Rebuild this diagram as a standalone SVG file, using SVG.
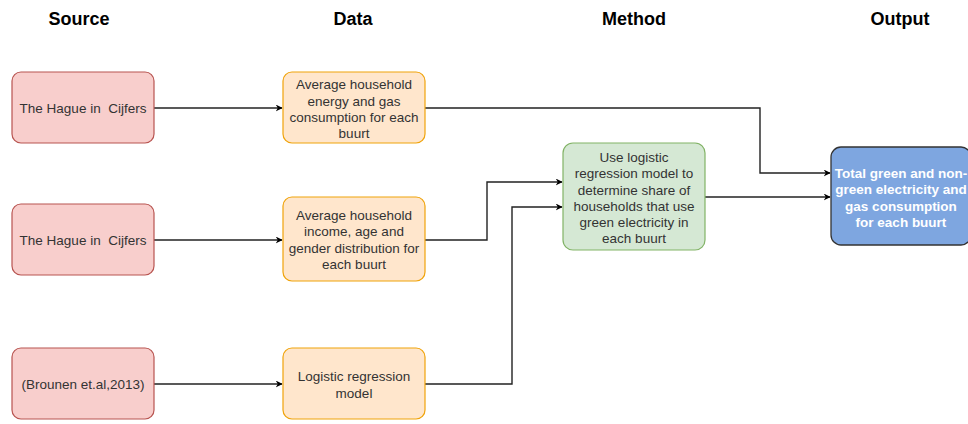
<svg xmlns="http://www.w3.org/2000/svg" width="968" height="424" viewBox="0 0 968 424">
<style>
text{font-family:"Liberation Sans",Arial,sans-serif;white-space:pre;}
.hdr{font-size:18px;font-weight:bold;fill:#000;text-anchor:middle;}
.t{font-size:13.5px;fill:#333;text-anchor:middle;}
.tw{font-size:13.5px;fill:#fff;font-weight:bold;text-anchor:middle;}
.src{fill:#F8CECC;stroke:#B85450;stroke-width:1.2;}
.dat{fill:#FFE6CC;stroke:#F0A30A;stroke-width:1.2;}
.met{fill:#D5E8D4;stroke:#82B366;stroke-width:1.2;}
.out{fill:#7EA6E0;stroke:#333;stroke-width:1.3;}
.c{fill:none;stroke:#222;stroke-width:1.4;marker-end:url(#ah);}
</style>
<defs>
<marker id="ah" viewBox="0 0 10 10" refX="9" refY="5" markerWidth="7" markerHeight="7" markerUnits="userSpaceOnUse" orient="auto">
<path d="M0,0 L10,5 L0,10 L3,5 Z" fill="#000"/>
</marker>
</defs>
<rect width="968" height="424" fill="#fff"/>
<g id="headers">
<text class="hdr" x="79" y="25">Source</text>
<text class="hdr" x="353" y="25">Data</text>
<text class="hdr" x="634" y="25">Method</text>
<text class="hdr" x="900" y="25">Output</text>
</g>
<g id="connectors">
<path class="c" d="M154,108 H282"/>
<path class="c" d="M154,240 H282"/>
<path class="c" d="M154,384 H282"/>
<path class="c" d="M425,108 H760 V173 H830"/>
<path class="c" d="M425,240 H487 V182 H562"/>
<path class="c" d="M425,384 H512 V207 H562"/>
<path class="c" d="M705,197 H830"/>
</g>
<g id="src1">
<rect class="src" x="12" y="72" width="142" height="71" rx="9"/>
<text class="t" x="83" y="113" xml:space="preserve">The Hague in  Cijfers</text>
</g>
<g id="src2">
<rect class="src" x="12" y="204" width="142" height="71" rx="9"/>
<text class="t" x="83" y="245" xml:space="preserve">The Hague in  Cijfers</text>
</g>
<g id="src3">
<rect class="src" x="12" y="348" width="142" height="71" rx="9"/>
<text class="t" x="83" y="389">(Brounen et.al,2013)</text>
</g>
<g id="data1">
<rect class="dat" x="283" y="72" width="142" height="71" rx="9"/>
<text class="t" x="354" y="89">Average household</text>
<text class="t" x="354" y="106">energy and gas</text>
<text class="t" x="354" y="122">consumption for each</text>
<text class="t" x="354" y="138">buurt</text>
</g>
<g id="data2">
<rect class="dat" x="283" y="197" width="142" height="84" rx="9"/>
<text class="t" x="354" y="220">Average household</text>
<text class="t" x="354" y="236">income, age and</text>
<text class="t" x="354" y="253">gender distribution for</text>
<text class="t" x="354" y="269">each buurt</text>
</g>
<g id="data3">
<rect class="dat" x="283" y="348" width="142" height="71" rx="9"/>
<text class="t" x="354" y="381">Logistic regression</text>
<text class="t" x="354" y="398">model</text>
</g>
<g id="method">
<rect class="met" x="563" y="143" width="142" height="107" rx="10"/>
<text class="t" x="634" y="162">Use logistic</text>
<text class="t" x="634" y="178">regression model to</text>
<text class="t" x="634" y="195">determine share of</text>
<text class="t" x="634" y="211">households that use</text>
<text class="t" x="634" y="227">green electricity in</text>
<text class="t" x="634" y="243">each buurt</text>
</g>
<g id="output">
<rect class="out" x="831" y="147" width="140" height="98" rx="10"/>
<text class="tw" x="901" y="178">Total green and non-</text>
<text class="tw" x="901" y="194">green electricity and</text>
<text class="tw" x="901" y="211">gas consumption</text>
<text class="tw" x="901" y="227">for each buurt</text>
</g>
</svg>
